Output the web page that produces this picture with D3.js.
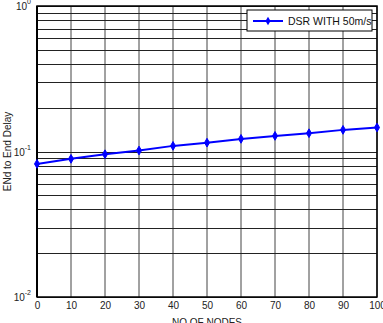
<!DOCTYPE html>
<html>
<head>
<meta charset="utf-8">
<script src="https://cdn.jsdelivr.net/npm/d3@7"></script>
<style>
  body { margin: 0; background: #fff; }
  text { font-family: "Liberation Sans", Arial, sans-serif; }
</style>
</head>
<body>
<div id="chart"></div>
<script>
var svgWidth = 383;
var svgHeight = 323;

var chartMargin = { top: 6, right: 6, bottom: 26, left: 37 };

var chartWidth = svgWidth - chartMargin.left - chartMargin.right;
var chartHeight = svgHeight - chartMargin.top - chartMargin.bottom;

// data
var nodes = [0, 10, 20, 30, 40, 50, 60, 70, 80, 90, 100];
var delay = [0.0822, 0.089, 0.0958, 0.1016, 0.1093, 0.115, 0.1221, 0.128, 0.1336, 0.1408, 0.1462];
var xTicks = [0, 10, 20, 30, 40, 50, 60, 70, 80, 90, 100];
var yDecades = [-2, -1, 0];
var seriesName = "DSR WITH 50m/s";

var svg = d3.select("#chart")
  .append("svg")
  .attr("width", svgWidth)
  .attr("height", svgHeight);

var chartGroup = svg.append("g")
  .attr("transform", `translate(${chartMargin.left}, ${chartMargin.top})`);

var xScale = d3.scaleLinear()
  .domain([0, 100])
  .range([0, chartWidth]);

var yScale = d3.scaleLog()
  .domain([0.01, 1])
  .range([chartHeight, 0]);

// vertical grid
chartGroup.selectAll(".vgrid")
  .data(xTicks)
  .enter()
  .append("line")
  .attr("x1", d => xScale(d))
  .attr("x2", d => xScale(d))
  .attr("y1", 0)
  .attr("y2", chartHeight)
  .attr("stroke", "#444")
  .attr("stroke-width", 1);

// horizontal log grid (major + minor)
var yGrid = [];
[0.01, 0.1].forEach(function(base) {
  for (var k = 1; k <= 9; k++) yGrid.push(base * k);
});
yGrid.push(1);

chartGroup.selectAll(".hgrid")
  .data(yGrid)
  .enter()
  .append("line")
  .attr("x1", 0)
  .attr("x2", chartWidth)
  .attr("y1", d => Math.round(yScale(d)) + 0.5)
  .attr("y2", d => Math.round(yScale(d)) + 0.5)
  .attr("stroke", "#222")
  .attr("stroke-width", 1);

// frame
chartGroup.append("rect")
  .attr("x", 0)
  .attr("y", 0)
  .attr("width", chartWidth)
  .attr("height", chartHeight)
  .attr("fill", "none")
  .attr("stroke", "#000")
  .attr("stroke-width", 1.5);

chartGroup.append("line")
  .attr("x1", 0).attr("x2", 0)
  .attr("y1", 0).attr("y2", chartHeight)
  .attr("stroke", "#000")
  .attr("stroke-width", 2);

// x tick labels
var bottomAxis = d3.axisBottom(xScale)
  .tickValues(xTicks)
  .tickSize(0)
  .tickPadding(5);

var xAxisG = chartGroup.append("g")
  .attr("transform", `translate(0, ${chartHeight})`)
  .call(bottomAxis);
xAxisG.select(".domain").remove();
xAxisG.selectAll("text")
  .style("font-size", "10px")
  .style("font-family", "Liberation Sans, Arial, sans-serif")
  .attr("fill", "#222");

// y tick labels 10^n
var yLabels = chartGroup.selectAll(".ylab")
  .data(yDecades)
  .enter()
  .append("text")
  .attr("x", -6)
  .attr("y", d => yScale(Math.pow(10, d)) + 4)
  .attr("text-anchor", "end")
  .style("font-size", "10px")
  .attr("fill", "#222");

yLabels.append("tspan").text("10");
yLabels.append("tspan")
  .attr("dy", -6)
  .style("font-size", "7px")
  .text(d => d);

// line
var line = d3.line()
  .x((d, i) => xScale(nodes[i]))
  .y(d => yScale(d));

chartGroup.append("path")
  .datum(delay)
  .attr("d", line)
  .attr("fill", "none")
  .attr("stroke", "#0000ff")
  .attr("stroke-width", 2);

var diamond = d3.symbol().type(d3.symbolDiamond).size(22);

chartGroup.selectAll(".pt")
  .data(delay)
  .enter()
  .append("path")
  .attr("d", diamond)
  .attr("transform", (d, i) => `translate(${xScale(nodes[i])}, ${yScale(d)})`)
  .attr("fill", "#0000ff")
  .attr("stroke", "#0000ff")
  .attr("stroke-width", 1);

// legend
var legend = chartGroup.append("g")
  .attr("transform", "translate(210, 4)");

legend.append("rect")
  .attr("x", 0)
  .attr("y", 0)
  .attr("width", 125)
  .attr("height", 21)
  .attr("fill", "#fff")
  .attr("stroke", "#000")
  .attr("stroke-width", 1);

legend.append("line")
  .attr("x1", 6).attr("x2", 36)
  .attr("y1", 11).attr("y2", 11)
  .attr("stroke", "#0000ff")
  .attr("stroke-width", 2);

legend.append("path")
  .attr("d", diamond)
  .attr("transform", "translate(21, 11)")
  .attr("fill", "#0000ff");

legend.append("text")
  .attr("x", 41)
  .attr("y", 15)
  .style("font-size", "10.5px")
  .attr("fill", "#111")
  .text(seriesName);

// axis titles
svg.append("text")
  .attr("x", chartMargin.left + chartWidth / 2)
  .attr("y", 326)
  .style("text-anchor", "middle")
  .style("font-size", "10px")
  .attr("fill", "#222")
  .text("NO OF NODES");

svg.append("text")
  .attr("transform", "rotate(-90)")
  .attr("y", 11)
  .attr("x", 0 - (chartMargin.top + chartHeight / 2))
  .style("text-anchor", "middle")
  .style("font-size", "10px")
  .attr("fill", "#222")
  .text("ENd to End Delay");
</script>
</body>
</html>
